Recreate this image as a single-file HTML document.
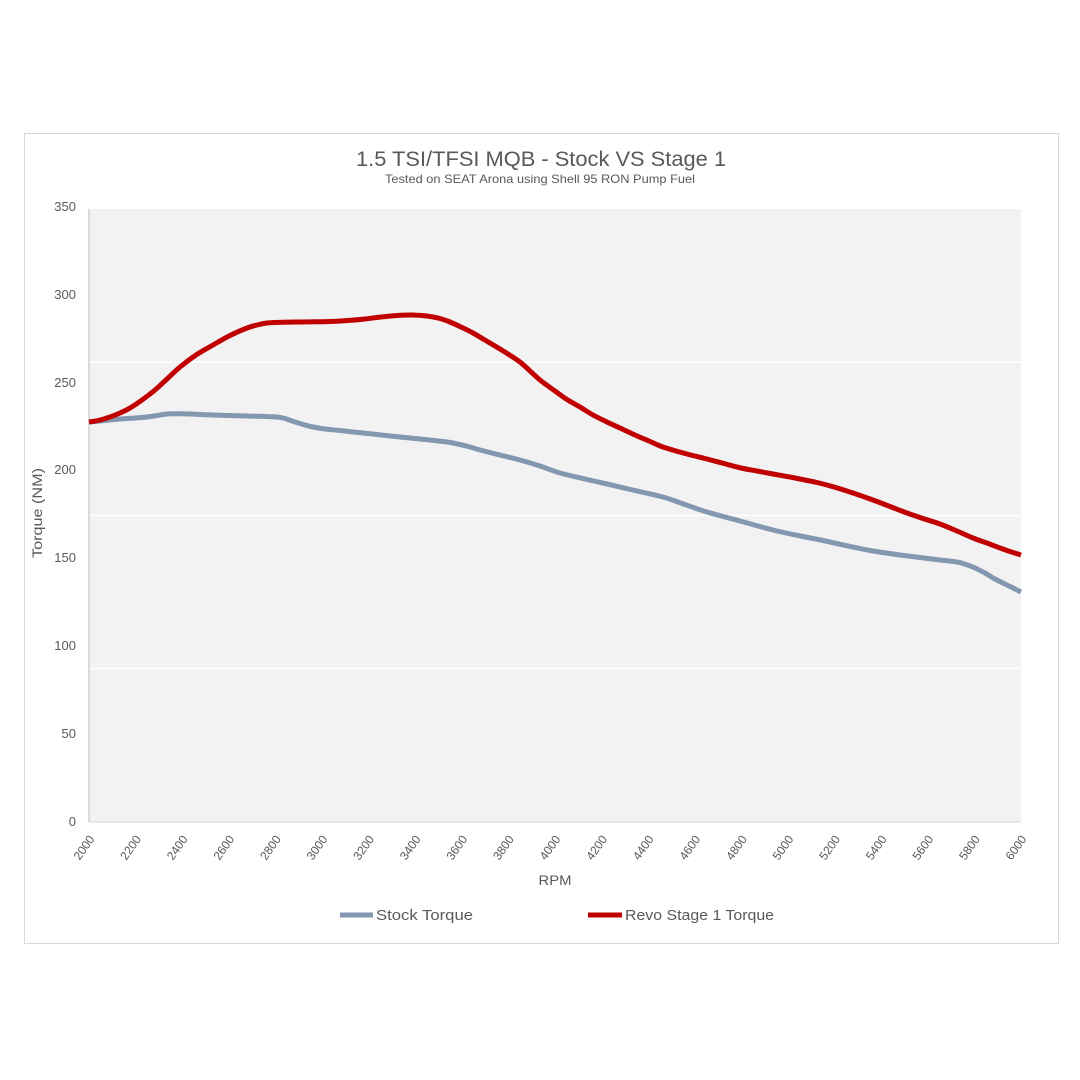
<!DOCTYPE html>
<html>
<head>
<meta charset="utf-8">
<style>
  html,body{margin:0;padding:0;background:#ffffff;}
  svg{display:block;}
  text{font-family:"Liberation Sans",sans-serif;fill:#595959;}
</style>
</head>
<body>
<svg id="chart" width="1080" height="1080" viewBox="0 0 1080 1080" xmlns="http://www.w3.org/2000/svg">
  <rect x="0" y="0" width="1080" height="1080" fill="#ffffff"/>
  <!-- outer frame -->
  <rect x="24.5" y="133.5" width="1034" height="810" fill="#ffffff" stroke="#d9d9d9" stroke-width="1"/>

  <!-- title -->
  <text x="541" y="166" font-size="21" text-anchor="middle" textLength="370" lengthAdjust="spacingAndGlyphs">1.5 TSI/TFSI MQB - Stock VS Stage 1</text>
  <text x="540" y="183" font-size="12" text-anchor="middle" textLength="310" lengthAdjust="spacingAndGlyphs">Tested on SEAT Arona using Shell 95 RON Pump Fuel</text>

  <!-- plot area -->
  <rect x="89" y="209" width="932" height="613" fill="#f2f2f2"/>
  <g stroke="#ffffff" stroke-width="1.5">
    <line x1="89" y1="362" x2="1021" y2="362"/>
    <line x1="89" y1="515.5" x2="1021" y2="515.5"/>
    <line x1="89" y1="668.5" x2="1021" y2="668.5"/>
  </g>
  <line x1="89" y1="209" x2="89" y2="822" stroke="#d0d0d0" stroke-width="1.5"/>
  <line x1="89" y1="822" x2="1021" y2="822" stroke="#e0e0e0" stroke-width="1.5"/>

  <!-- y tick labels -->
  <g font-size="13" text-anchor="end">
    <text x="76" y="211">350</text>
    <text x="76" y="299">300</text>
    <text x="76" y="387">250</text>
    <text x="76" y="474">200</text>
    <text x="76" y="562">150</text>
    <text x="76" y="650">100</text>
    <text x="76" y="738">50</text>
    <text x="76" y="826">0</text>
  </g>

  <!-- y axis title -->
  <text transform="translate(42,513) rotate(-90)" font-size="14" text-anchor="middle" textLength="90" lengthAdjust="spacingAndGlyphs">Torque (NM)</text>

  <!-- x tick labels -->
  <g font-size="12" text-anchor="end">
    <text transform="translate(95,839) rotate(-55)">2000</text>
    <text transform="translate(141.6,839) rotate(-55)">2200</text>
    <text transform="translate(188.2,839) rotate(-55)">2400</text>
    <text transform="translate(234.8,839) rotate(-55)">2600</text>
    <text transform="translate(281.4,839) rotate(-55)">2800</text>
    <text transform="translate(328,839) rotate(-55)">3000</text>
    <text transform="translate(374.6,839) rotate(-55)">3200</text>
    <text transform="translate(421.2,839) rotate(-55)">3400</text>
    <text transform="translate(467.8,839) rotate(-55)">3600</text>
    <text transform="translate(514.4,839) rotate(-55)">3800</text>
    <text transform="translate(561,839) rotate(-55)">4000</text>
    <text transform="translate(607.6,839) rotate(-55)">4200</text>
    <text transform="translate(654.2,839) rotate(-55)">4400</text>
    <text transform="translate(700.8,839) rotate(-55)">4600</text>
    <text transform="translate(747.4,839) rotate(-55)">4800</text>
    <text transform="translate(794,839) rotate(-55)">5000</text>
    <text transform="translate(840.6,839) rotate(-55)">5200</text>
    <text transform="translate(887.2,839) rotate(-55)">5400</text>
    <text transform="translate(933.8,839) rotate(-55)">5600</text>
    <text transform="translate(980.4,839) rotate(-55)">5800</text>
    <text transform="translate(1027,839) rotate(-55)">6000</text>
  </g>

  <!-- x axis title -->
  <text x="555" y="885" font-size="14" text-anchor="middle" textLength="33" lengthAdjust="spacingAndGlyphs">RPM</text>

  <!-- stock torque -->
  <polyline class="smooth" fill="none" stroke="#8497b0" stroke-width="5" stroke-linejoin="round" stroke-linecap="butt"
    points="89,422 105,420.5 120,419 135,418 147,417 157,415.5 167,414 180,413.8 190,414 213,415 247,416 265,416.5 277,417 285,418.5 295,422 305,425 313,427 325,429 340,430.5 363,433 400,437 425,439.5 447,442 460,444.5 470,447 480,450 500,455 520,460 540,466 560,473 585,479 607,484 635,490.5 663,497 685,504.5 707,512 740,521 773,530 798,535.5 823,540.5 848,546 873,551 900,555 920,557.5 940,560 957,562 966,564.5 975,568 985,573 995,579 1008,585.5 1021,592"/>

  <!-- revo stage 1 torque -->
  <polyline class="smooth" fill="none" stroke="#c00000" stroke-width="5" stroke-linejoin="round" stroke-linecap="butt"
    points="89,422 100,420 110,417 120,413 130,408 142,400 155,390 167,379 180,367 196,355 213,345 230,335.5 247,328 257,325 267,323 283,322.3 300,322 315,321.8 330,321.5 348,320.5 365,319 381,317 397,315.5 412,315 427,316 440,318.5 450,322 462,327.5 473,333 484,339.5 495,346 508,354 520,362 530,371 540,380 548,386 555,391 567,399.5 580,407 593,415 607,422 621,428.5 635,435 649,441 663,447 685,453.5 707,459 724,463.5 741,468 757,471 773,474 787,476.5 800,479 817,482.5 834,487 853,493 873,500 890,506.5 907,513 923,518.5 940,524 957,531 973,538 987,543 1000,548 1010,551.5 1021,555"/>

  <!-- legend -->
  <line x1="340" y1="915" x2="373" y2="915" stroke="#8497b0" stroke-width="5"/>
  <text x="376" y="920" font-size="15" textLength="97" lengthAdjust="spacingAndGlyphs">Stock Torque</text>
  <line x1="588" y1="915" x2="622" y2="915" stroke="#c00000" stroke-width="5"/>
  <text x="625" y="920" font-size="15" textLength="149" lengthAdjust="spacingAndGlyphs">Revo Stage 1 Torque</text>
</svg>
<script>
(function(){
  var NS="http://www.w3.org/2000/svg";
  var pls=document.querySelectorAll("polyline.smooth");
  for(var k=0;k<pls.length;k++){
    var pl=pls[k];
    var raw=pl.getAttribute("points").trim().split(/\s+/);
    var p=raw.map(function(s){var a=s.split(",");return [parseFloat(a[0]),parseFloat(a[1])];});
    var d="M"+p[0][0]+","+p[0][1];
    for(var i=0;i<p.length-1;i++){
      var p0=p[i>0?i-1:0],p1=p[i],p2=p[i+1],p3=p[i+2<p.length?i+2:p.length-1];
      var c1x=p1[0]+(p2[0]-p0[0])/6,c1y=p1[1]+(p2[1]-p0[1])/6;
      var c2x=p2[0]-(p3[0]-p1[0])/6,c2y=p2[1]-(p3[1]-p1[1])/6;
      d+=" C"+c1x.toFixed(2)+","+c1y.toFixed(2)+" "+c2x.toFixed(2)+","+c2y.toFixed(2)+" "+p2[0]+","+p2[1];
    }
    var path=document.createElementNS(NS,"path");
    path.setAttribute("d",d);
    path.setAttribute("fill","none");
    path.setAttribute("stroke",pl.getAttribute("stroke"));
    path.setAttribute("stroke-width",pl.getAttribute("stroke-width"));
    path.setAttribute("stroke-linejoin","round");
    pl.parentNode.insertBefore(path,pl);
    pl.parentNode.removeChild(pl);
  }
})();
</script>
</body>
</html>
